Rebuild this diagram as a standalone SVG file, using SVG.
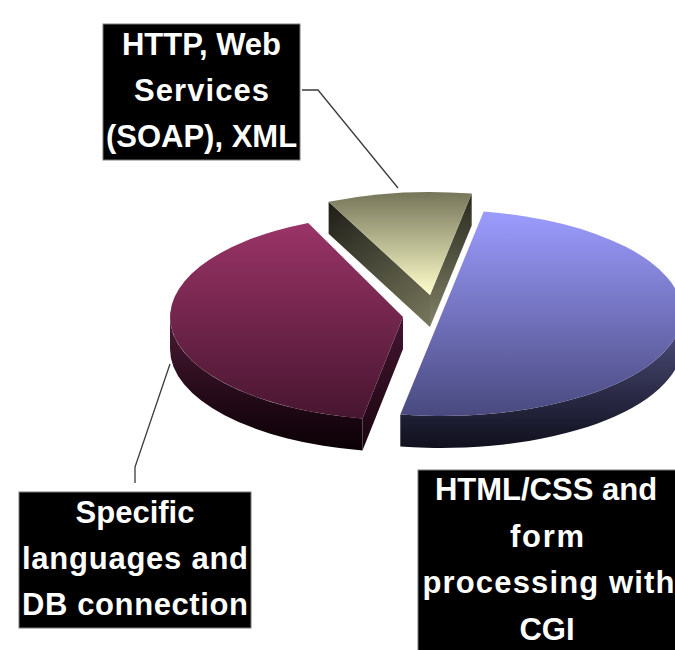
<svg xmlns="http://www.w3.org/2000/svg" width="675" height="650" viewBox="0 0 675 650">
  <style>
    .lbl { fill: #000000; stroke: #7a7a7a; stroke-width: 1; }
    .txt { font-family: "Liberation Sans", Arial, sans-serif; font-weight: bold; font-size: 31px; fill: #ffffff; text-anchor: middle; }
    .lead { fill: none; stroke: #3a3a3a; stroke-width: 1.3; }
  </style>
  <defs>
    <linearGradient id="bTop" gradientUnits="userSpaceOnUse" x1="0" y1="211" x2="0" y2="415">
      <stop offset="0" stop-color="#9c9cff"/>
      <stop offset="1" stop-color="#4a4a80"/>
    </linearGradient>
    <linearGradient id="bSide" gradientUnits="userSpaceOnUse" x1="0" y1="325" x2="0" y2="447">
      <stop offset="0" stop-color="#4e4e7c"/>
      <stop offset="1" stop-color="#10101e"/>
    </linearGradient>
    <linearGradient id="mTop" gradientUnits="userSpaceOnUse" x1="0" y1="223" x2="0" y2="418">
      <stop offset="0" stop-color="#9a3467"/>
      <stop offset="1" stop-color="#481630"/>
    </linearGradient>
    <linearGradient id="mSide" gradientUnits="userSpaceOnUse" x1="0" y1="320" x2="0" y2="450">
      <stop offset="0" stop-color="#4a1a34"/>
      <stop offset="1" stop-color="#0a0005"/>
    </linearGradient>
    <linearGradient id="mFace" gradientUnits="userSpaceOnUse" x1="0" y1="317" x2="0" y2="450">
      <stop offset="0" stop-color="#421630"/>
      <stop offset="1" stop-color="#1a0510"/>
    </linearGradient>
    <linearGradient id="yTop" gradientUnits="userSpaceOnUse" x1="0" y1="193" x2="0" y2="295">
      <stop offset="0" stop-color="#76765a"/>
      <stop offset="1" stop-color="#ffffcc"/>
    </linearGradient>
    <linearGradient id="yLeft" gradientUnits="userSpaceOnUse" x1="330" y1="205" x2="425" y2="325">
      <stop offset="0" stop-color="#20201a"/>
      <stop offset="1" stop-color="#75755a"/>
    </linearGradient>
    <linearGradient id="yRight" gradientUnits="userSpaceOnUse" x1="0" y1="195" x2="0" y2="327">
      <stop offset="0" stop-color="#2a2a20"/>
      <stop offset="1" stop-color="#828268"/>
    </linearGradient>
  </defs>
  <rect width="675" height="650" fill="#ffffff"/>

  <g id="slice-xml">
    <path d="M328.6,201.7 L430,295 L430,327 L328.6,233.7 Z" fill="url(#yLeft)"/>
    <path d="M471.7,193.6 L430,295 L430,327 L471.7,225.6 Z" fill="url(#yRight)"/>
    <path d="M430,295 L328.6,201.7 A240 103 0 0 1 471.7,193.6 Z" fill="url(#yTop)"/>
  </g>

  <g id="slice-db">
    <path d="M362.5,418.4 A233 103 0 0 1 170,317 L170,349 A233 103 0 0 0 362.5,450.4 Z" fill="url(#mSide)"/>
    <path d="M403,317 L362.5,418.4 L362.5,450.4 L403,349 Z" fill="url(#mFace)"/>
    <path d="M403,317 L362.5,418.4 A233 103 0 0 1 308.2,222.9 Z" fill="url(#mTop)"/>
  </g>

  <g id="slice-html">
    <path d="M682,313 A240 103 0 0 1 400.3,414.4 L400.3,446.4 A240 103 0 0 0 682,345 Z" fill="url(#bSide)"/>
    <path d="M483.7,211.6 A240 103 0 0 1 682,313 A240 103 0 0 1 400.3,414.4 Z" fill="url(#bTop)"/>
  </g>

  <g id="connectors">
    <polyline class="lead" points="302,90 318,90 398,188"/>
    <polyline class="lead" points="135,483 135,467 170,364"/>
  </g>

  <g id="label-xml">
    <rect class="lbl" x="103" y="24" width="197" height="136"/>
    <text class="txt" x="201.5" y="55">HTTP, Web</text>
    <text class="txt" x="201.5" y="101" textLength="135" lengthAdjust="spacing">Services</text>
    <text class="txt" x="201.5" y="147">(SOAP), XML</text>
  </g>

  <g id="label-db">
    <rect class="lbl" x="19" y="492" width="232" height="136"/>
    <text class="txt" x="135" y="523">Specific</text>
    <text class="txt" x="135" y="569" textLength="226" lengthAdjust="spacing">languages and</text>
    <text class="txt" x="135" y="615" textLength="226" lengthAdjust="spacing">DB connection</text>
  </g>

  <g id="label-html">
    <rect class="lbl" x="418" y="470" width="262" height="185"/>
    <text class="txt" x="546" y="500">HTML/CSS and</text>
    <text class="txt" x="547" y="546.5" textLength="74" lengthAdjust="spacing">form</text>
    <text class="txt" x="548.5" y="593" textLength="252" lengthAdjust="spacing">processing with</text>
    <text class="txt" x="547" y="639.5">CGI</text>
  </g>
</svg>
